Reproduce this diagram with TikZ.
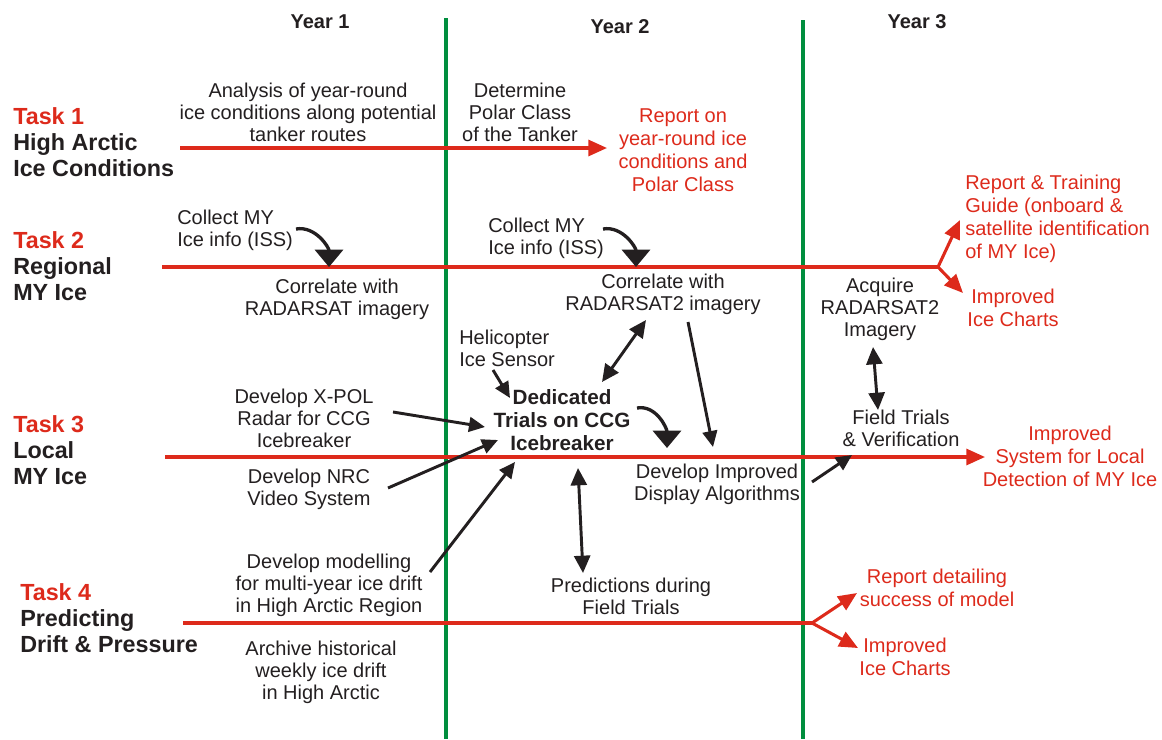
\documentclass[tikz,border=0pt]{standalone}
\usepackage{fontspec}
\setmainfont{Liberation Sans}
\usetikzlibrary{arrows.meta}

\definecolor{taskred}{RGB}{221,42,27}
\definecolor{yeargreen}{RGB}{0,142,62}
\definecolor{inkblack}{RGB}{35,31,32}

\tikzset{
  txt/.style={align=center, inner sep=0pt, text=inkblack,
    font=\fontsize{15}{16.5}\selectfont},
  outcome/.style={txt, text=taskred, font=\fontsize{15}{17.2}\selectfont},
  tasklbl/.style={align=left, anchor=west, inner sep=0pt, text=inkblack,
    font=\bfseries\fontsize{17.5}{19.3}\selectfont},
  yearlbl/.style={inner sep=0pt, text=inkblack, font=\bfseries\fontsize{15}{16}\selectfont},
  yearline/.style={draw=yeargreen, line width=2.3pt},
  taskline/.style={draw=taskred, line width=2.3pt},
  redarrow/.style={taskline, -{Triangle[length=14pt,width=12pt]}},
  blkarrow/.style={draw=inkblack, line width=2.2pt, -{Triangle[length=12pt,width=11pt]}},
  dblarrow/.style={draw=inkblack, line width=2.2pt,
    {Triangle[length=13pt,width=12pt]}-{Triangle[length=13pt,width=12pt]}},
  turnarrow/.style={draw=inkblack, line width=2.5pt, -{Triangle[length=13pt,width=21pt]}},
}

\begin{document}
\begin{tikzpicture}[x=0.75pt, y=-0.75pt]
  \useasboundingbox (0,0) rectangle (1162,739);

  % year columns
  \node[yearlbl] (year1) at (320,22) {Year 1};
  \node[yearlbl] (year2) at (620,27) {Year 2};
  \node[yearlbl] (year3) at (917,22) {Year 3};
  \coordinate (g1top) at (446,18);  \coordinate (g1bot) at (446,739);
  \coordinate (g2top) at (803,20);  \coordinate (g2bot) at (803,739);
  \draw[yearline] (g1top) -- (g1bot);
  \draw[yearline] (g2top) -- (g2bot);

  % task labels
  \node[tasklbl] (task1) at (13,142) {\textcolor{taskred}{Task 1}\\High Arctic\\Ice Conditions};
  \node[tasklbl] (task2) at (13,266) {\textcolor{taskred}{Task 2}\\Regional\\MY Ice};
  \node[tasklbl] (task3) at (13,450) {\textcolor{taskred}{Task 3}\\Local\\MY Ice};
  \node[tasklbl] (task4) at (20,618) {\textcolor{taskred}{Task 4}\\Predicting\\Drift \& Pressure};

  % task 1
  \node[txt] (analysis) at (308,112) {Analysis of year-round\\ice conditions along potential\\tanker routes};
  \node[txt] (polar) at (520,112) {Determine\\Polar Class\\of the Tanker};
  \node[outcome] (report1) at (683,150) {Report on\\year-round ice\\conditions and\\Polar Class};

  % task 2
  \node[txt, anchor=west, align=left] (collect1) at (177,230) {Collect MY\\Ice info (ISS)};
  \node[txt] (corr1) at (337,299) {Correlate with\\RADARSAT imagery};
  \node[txt, anchor=west, align=left] (collect2) at (488,238) {Collect MY\\Ice info (ISS)};
  \node[txt] (corr2) at (663,294) {Correlate with\\RADARSAT2 imagery};
  \node[txt] (acquire) at (880,309) {Acquire\\RADARSAT2\\Imagery};
  \node[outcome, anchor=west, align=left] (report2) at (965,219) {Report \& Training\\Guide (onboard \&\\satellite identification\\of MY Ice)};
  \node[outcome] (charts2) at (1013,308) {Improved\\Ice Charts};

  % task 3
  \node[txt, anchor=west, align=left] (heli) at (459,348) {Helicopter\\Ice Sensor};
  \node[txt, font=\bfseries\fontsize{15.5}{17}\selectfont] (trials) at (562,420) {Dedicated\\Trials on CCG\\Icebreaker};
  \node[txt] (xpol) at (304,418) {Develop X-POL\\Radar for CCG\\Icebreaker};
  \node[txt] (video) at (309,489) {Develop NRC\\Video System};
  \node[txt] (display) at (717,484) {Develop Improved\\Display Algorithms};
  \node[txt] (field) at (901,428) {Field Trials\\\& Verification};
  \node[outcome] (system) at (1070,456) {Improved\\System for Local\\Detection of MY Ice};

  % task 4
  \node[txt] (model) at (329,585) {Develop modelling\\for multi-year ice drift\\in High Arctic Region};
  \node[txt] (archive) at (321,672) {Archive historical\\weekly ice drift\\in High Arctic};
  \node[txt] (predict) at (631,596) {Predictions during\\Field Trials};
  \node[outcome] (report4) at (937,588) {Report detailing\\success of model};
  \node[outcome] (charts4) at (905,657) {Improved\\Ice Charts};

  % task lines
  \coordinate (t1a) at (180,148); \coordinate (t1b) at (607,148);
  \coordinate (t2a) at (162,267); \coordinate (t2b) at (938,267);
  \coordinate (t3a) at (165,457); \coordinate (t3b) at (985,457);
  \coordinate (t4a) at (183,623); \coordinate (t4b) at (812,623);
  \draw[redarrow] (t1a) -- (t1b);
  \draw[taskline] (t2a) -- (t2b);
  \draw[redarrow] (t2b) -- (960,220);
  \draw[redarrow] (t2b) -- (963,293);
  \draw[redarrow] (t3a) -- (t3b);
  \draw[taskline] (t4a) -- (t4b);
  \draw[redarrow] (t4b) -- (857,593);
  \draw[redarrow] (t4b) -- (858,648);

  % turning arrows
  \draw[turnarrow] (296,229) to[out=10, in=90] (329,267);
  \draw[turnarrow] (603,229) to[out=10, in=90] (636,267);
  \draw[turnarrow] (637,408) to[out=10, in=90] (667,448);

  % links
  \draw[dblarrow] (602,382) -- (646,320);
  \draw[blkarrow] (688,322) -- (713,447);
  \draw[blkarrow] (493,370) -- (510,398);
  \draw[blkarrow] (393,412) -- (485,427);
  \draw[blkarrow] (388,488) -- (498,440);
  \draw[blkarrow] (430,572) -- (515,462);
  \draw[dblarrow] (578,468) -- (583,573);
  \draw[dblarrow] (873,347) -- (878,410);
  \draw[blkarrow] (812,482) -- (852,455);
\end{tikzpicture}
\end{document}
